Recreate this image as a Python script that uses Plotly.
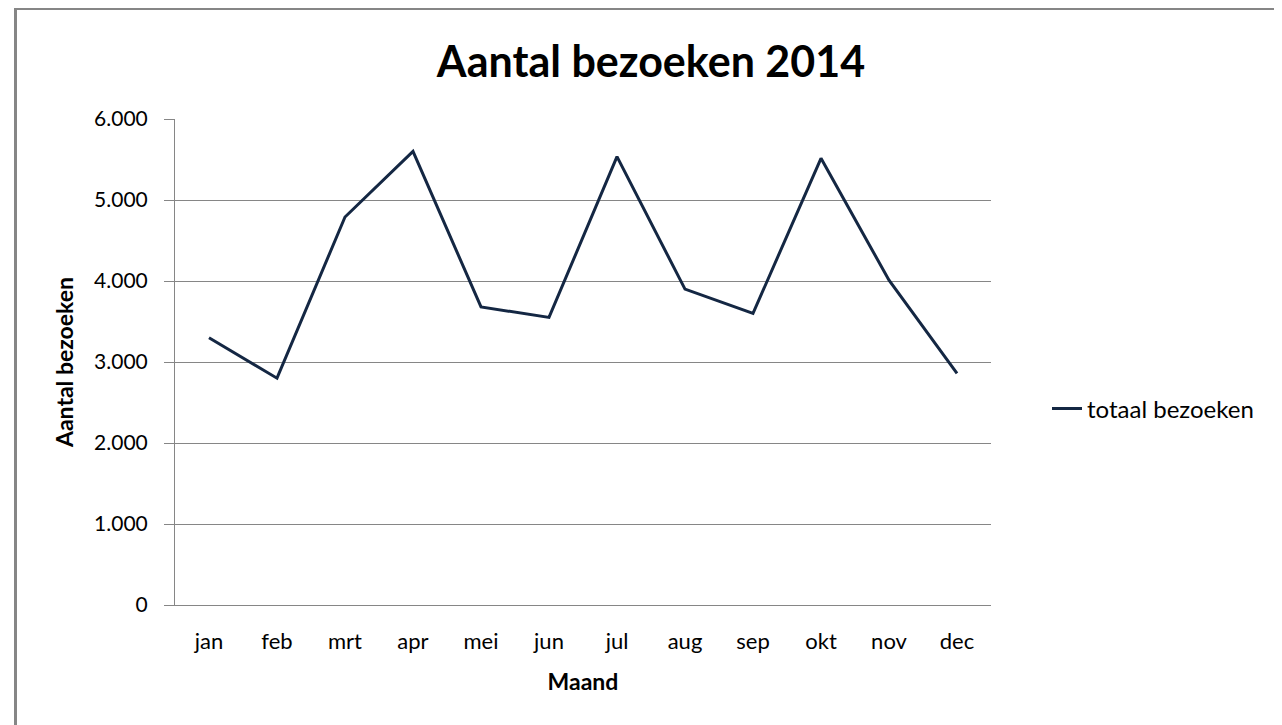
import plotly.graph_objects as go

months = ["jan", "feb", "mrt", "apr", "mei", "jun", "jul", "aug", "sep", "okt", "nov", "dec"]
visits = [3300, 2800, 4790, 5600, 3680, 3550, 5535, 3900, 3600, 5515, 4010, 2860]
series_name = "totaal bezoeken"
y_ticks = [0, 1000, 2000, 3000, 4000, 5000, 6000]
y_tick_labels = ["0", "1.000", "2.000", "3.000", "4.000", "5.000", "6.000"]

FONT = "Lato"
GRID = "#868686"

# the page has an 8px body margin; work in figure coordinates = screen - 8
OFF = 8
W, H = 1282 - OFF, 725 - OFF
L, T = 175 - OFF, 119 - OFF
R = W - (991 - OFF)
B = H - (605 - OFF)
pw = W - L - R
ph = H - T - B


def px(x):
    return (x - OFF - L) / pw


def py(y):
    return (605 - y) / ph


fig = go.Figure()
fig.add_trace(go.Scatter(
    x=months, y=visits, mode="lines", name=series_name,
    line=dict(color="#142743", width=3),
))

fig.update_layout(
    width=W, height=H,
    margin=dict(l=L, r=R, t=T, b=B),
    paper_bgcolor="white", plot_bgcolor="white",
    font=dict(family=FONT, color="#000000"),
    title=dict(text="<b>Aantal bezoeken 2014</b>", x=(651 - OFF) / W, xanchor="center",
               y=1 - (62 - OFF) / H, yanchor="middle",
               font=dict(family=FONT, size=43, color="#000000")),
    showlegend=True,
    legend=dict(x=px(1047), y=py(409), xanchor="left", yanchor="middle",
                font=dict(family=FONT, size=24, color="#000000"),
                bgcolor="rgba(0,0,0,0)", itemwidth=30),
    xaxis=dict(
        type="category", showgrid=False, showline=True, linecolor=GRID, linewidth=1,
        ticks="", tickfont=dict(family=FONT, size=22, color="#000000"),
        ticklabelstandoff=17,
        title=dict(text="<b>Maand</b>", font=dict(family=FONT, size=23, color="#000000"), standoff=20),
        range=[-0.5, 11.5], fixedrange=True,
    ),
    yaxis=dict(
        range=[0, 6000], tickvals=y_ticks, ticktext=y_tick_labels,
        showgrid=True, gridcolor=GRID, gridwidth=1,
        showline=True, linecolor=GRID, linewidth=1,
        ticks="outside", ticklen=10, tickcolor=GRID,
        tickfont=dict(family=FONT, size=21, color="#000000"),
        ticklabelstandoff=12,
        zeroline=False,
        title=dict(text="<b>Aantal bezoeken</b>", font=dict(family=FONT, size=23, color="#000000"), standoff=14),
        fixedrange=True,
    ),
)

# chart border (top line and thick left line)
fig.add_shape(type="line", xref="paper", yref="paper",
              x0=px(14), x1=px(1290),
              y0=py(9), y1=py(9),
              line=dict(color=GRID, width=2))
fig.add_shape(type="line", xref="paper", yref="paper",
              x0=px(15.5), x1=px(15.5),
              y0=py(8), y1=py(740),
              line=dict(color=GRID, width=3))

fig.write_html("out.html")
